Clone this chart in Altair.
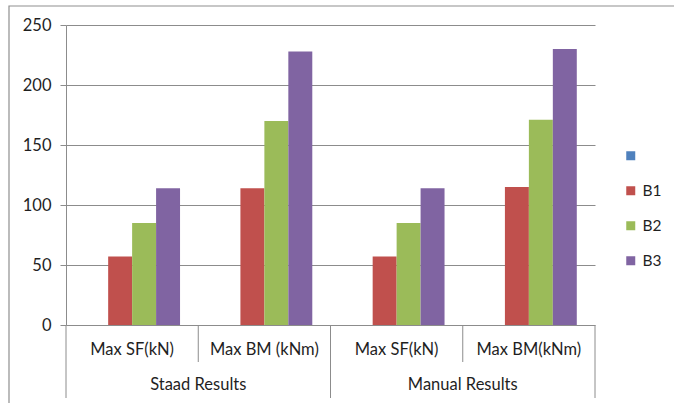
import altair as alt
import pandas as pd

# Grouped results: two result sets, each with shear force and bending moment
groups = ["Staad Results", "Staad Results", "Manual Results", "Manual Results"]
labels = ["Max SF(kN)", "Max BM (kNm)", "Max SF(kN)", "Max BM(kNm)"]
keys = [f"{g}|{l}" for g, l in zip(groups, labels)]

series_all = [" ", "B1", "B2", "B3"]
colors = ["#4F81BD", "#C0504D", "#9BBB59", "#8064A2"]

b1 = [57, 114, 57, 115]
b2 = [85, 170, 85, 171]
b3 = [114, 228, 114, 230]

rows = []
for name, vals in zip(["B1", "B2", "B3"], [b1, b2, b3]):
    for k, v in zip(keys, vals):
        rows.append({"key": k, "series": name, "value": v})
bars_df = pd.DataFrame(rows)

cat_df = pd.DataFrame({"key": keys, "label": labels})
grp_df = pd.DataFrame({"key": [keys[0], keys[2]], "label": ["Staad Results", "Manual Results"]})
short_div = pd.DataFrame({"key": [keys[1], keys[3]]})
long_div = pd.DataFrame({"key": [keys[0], keys[2]]})
end_div = pd.DataFrame({"key": [keys[3]]})

FONT = "Lato"
GRID = "#8c8c8c"
TEXT = "#1f1f1f"

x_scale = alt.Scale(domain=keys, paddingInner=0, paddingOuter=0)

frame = alt.Chart(pd.DataFrame({"a": [0]})).mark_rect(
    fillOpacity=0, stroke="#8f8f8f", strokeWidth=1.2
).encode(
    x=alt.value(-57), x2=alt.value(700), y=alt.value(-19), y2=alt.value(420)
)

bars = alt.Chart(bars_df).mark_bar().encode(
    x=alt.X("key:N", scale=x_scale, axis=None),
    xOffset=alt.XOffset("series:N", scale=alt.Scale(domain=series_all, paddingInner=0, paddingOuter=0.76)),
    y=alt.Y(
        "value:Q",
        scale=alt.Scale(domain=[0, 250]),
        axis=alt.Axis(
            values=[0, 50, 100, 150, 200, 250],
            title=None,
            grid=True,
            gridColor=GRID,
            gridWidth=1,
            domainColor=GRID,
            tickColor=GRID,
            tickSize=6,
            labelPadding=9,
            labelFont=FONT,
            labelFontSize=16.5,
            labelColor=TEXT,
        ),
    ),
    color=alt.Color(
        "series:N",
        scale=alt.Scale(domain=series_all, range=colors),
        legend=alt.Legend(
            title=None,
            orient="none",
            legendX=557,
            legendY=123,
            symbolType="square",
            symbolSize=81,
            symbolStrokeWidth=0,
            labelFont=FONT,
            labelFontSize=15.5,
            labelColor=TEXT,
            labelOffset=4,
            rowPadding=18,
        ),
    ),
)

short_rules = alt.Chart(short_div).mark_rule(color=GRID, strokeWidth=1).encode(
    x=alt.X("key:N", scale=x_scale, bandPosition=0),
    y=alt.value(300), y2=alt.value(337),
)
long_rules = alt.Chart(long_div).mark_rule(color=GRID, strokeWidth=1).encode(
    x=alt.X("key:N", scale=x_scale, bandPosition=0),
    y=alt.value(300), y2=alt.value(373),
)
end_rule = alt.Chart(end_div).mark_rule(color=GRID, strokeWidth=1).encode(
    x=alt.X("key:N", scale=x_scale, bandPosition=1),
    y=alt.value(300), y2=alt.value(373),
)

cat_text = alt.Chart(cat_df).mark_text(
    font=FONT, fontSize=16.5, color=TEXT, baseline="middle"
).encode(
    x=alt.X("key:N", scale=x_scale, bandPosition=0.5),
    y=alt.value(325),
    text="label:N",
)
grp_text = alt.Chart(grp_df).mark_text(
    font=FONT, fontSize=16.5, color=TEXT, baseline="middle"
).encode(
    x=alt.X("key:N", scale=x_scale, bandPosition=1),
    y=alt.value(360),
    text="label:N",
)

chart = alt.layer(
    frame, bars, short_rules, long_rules, end_rule, cat_text, grp_text
).properties(
    width=529,
    height=300,
    autosize=alt.AutoSizeParams(type="none"),
    padding={"left": 66, "top": 25, "right": 79, "bottom": 78},
    background="white",
).configure_view(strokeWidth=0)

chart.save("out.html", embed_options={"renderer": "svg", "actions": False})
